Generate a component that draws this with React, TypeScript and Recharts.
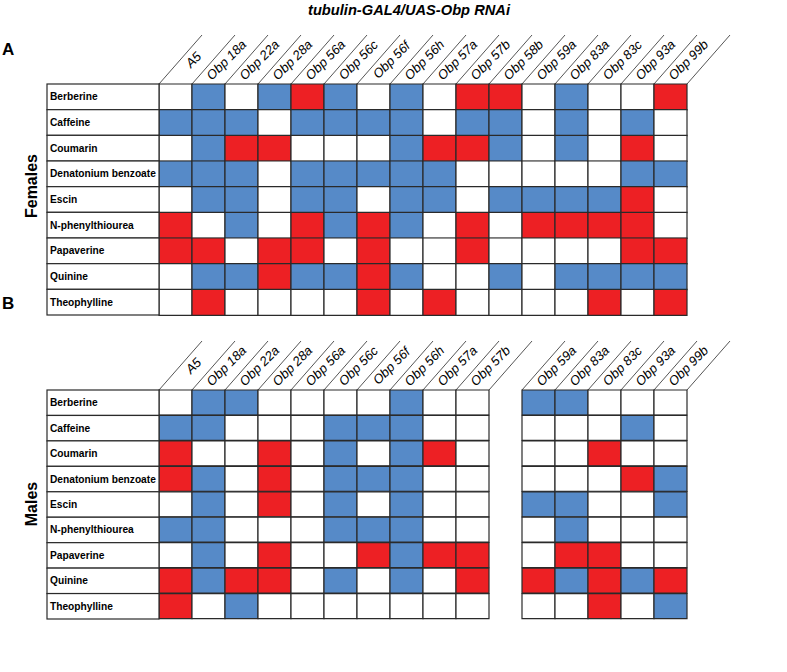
import React from "react";
import { BarChart, Bar, XAxis, YAxis, Cell } from "recharts";

// 0 = no change, 1 = blue, 2 = red, null = column left out
const compounds = [
  "Berberine",
  "Caffeine",
  "Coumarin",
  "Denatonium benzoate",
  "Escin",
  "N-phenylthiourea",
  "Papaverine",
  "Quinine",
  "Theophylline",
];

const femaleLines = [
  "A5", "Obp 18a", "Obp 22a", "Obp 28a", "Obp 56a", "Obp 56c", "Obp 56f", "Obp 56h",
  "Obp 57a", "Obp 57b", "Obp 58b", "Obp 59a", "Obp 83a", "Obp 83c", "Obp 93a", "Obp 99b",
];

const maleLines = [
  "A5", "Obp 18a", "Obp 22a", "Obp 28a", "Obp 56a", "Obp 56c", "Obp 56f", "Obp 56h",
  "Obp 57a", "Obp 57b", "", "Obp 59a", "Obp 83a", "Obp 83c", "Obp 93a", "Obp 99b",
];

const females = [
  [0, 1, 0, 1, 2, 1, 0, 1, 0, 2, 2, 0, 1, 0, 0, 2],
  [1, 1, 1, 0, 1, 1, 1, 1, 0, 1, 1, 0, 1, 0, 1, 0],
  [0, 1, 2, 2, 0, 0, 0, 1, 2, 2, 1, 0, 1, 0, 2, 0],
  [1, 1, 1, 0, 1, 1, 1, 1, 1, 0, 0, 0, 0, 0, 1, 1],
  [0, 1, 1, 0, 1, 1, 0, 1, 1, 0, 1, 1, 1, 1, 2, 0],
  [2, 0, 1, 0, 2, 1, 2, 1, 0, 2, 0, 2, 2, 2, 2, 0],
  [2, 2, 0, 2, 2, 0, 2, 0, 0, 2, 0, 0, 0, 0, 2, 2],
  [0, 1, 1, 2, 1, 1, 2, 1, 0, 0, 1, 0, 1, 1, 1, 1],
  [0, 2, 0, 0, 0, 0, 2, 0, 2, 0, 0, 0, 0, 2, 0, 2],
];

const males = [
  [0, 1, 1, 0, 0, 0, 0, 1, 0, 0, null, 1, 1, 0, 0, 0],
  [1, 1, 0, 0, 0, 1, 1, 1, 0, 0, null, 0, 0, 0, 1, 0],
  [2, 0, 0, 2, 0, 1, 0, 1, 2, 0, null, 0, 0, 2, 0, 0],
  [2, 1, 0, 2, 0, 1, 1, 1, 0, 0, null, 0, 0, 0, 2, 1],
  [0, 1, 0, 2, 0, 1, 0, 1, 0, 0, null, 1, 1, 0, 0, 1],
  [1, 1, 0, 0, 0, 1, 1, 1, 0, 0, null, 0, 1, 0, 0, 0],
  [0, 1, 0, 2, 0, 0, 2, 1, 2, 2, null, 0, 2, 2, 0, 0],
  [2, 1, 2, 2, 0, 1, 0, 1, 0, 2, null, 2, 1, 2, 1, 2],
  [2, 0, 1, 0, 0, 0, 0, 0, 0, 0, null, 0, 0, 2, 0, 1],
];

const BLUE = "#568AC8";
const RED = "#ED2024";
const EDGE = "#2a2a2a";
const FONT = "'Liberation Sans', Arial, sans-serif";

const fillFor = (v: number | null) => (v === 1 ? BLUE : v === 2 ? RED : v === 0 ? "#ffffff" : "none");

type PanelProps = {
  lines: string[];
  matrix: (number | null)[][];
  height: number;
  marginTop: number;
  marginBottom: number;
};

const HEAD_H = 50;
const LABEL_W = 112;
const LEFT = 47;
const RIGHT = 100;
const W = 787;

function Panel({ lines, matrix, height, marginTop, marginBottom }: PanelProps) {
  const n = lines.length;
  const plotTop = marginTop + HEAD_H;
  const plotH = height - plotTop - marginBottom;
  const rowH = plotH / compounds.length;
  const colW = (W - LEFT - LABEL_W - RIGHT) / n;

  const data = compounds.map((name) => {
    const row: Record<string, any> = { name };
    lines.forEach((_, c) => (row["c" + c] = 1));
    return row;
  });

  const HeaderTick = (props: any) => {
    const { x, payload } = props;
    const i = payload.value as number;
    const has = (k: number) => k >= 0 && k < n && lines[k] !== "";
    const showLine = has(i) || has(i - 1);
    const cx = x + colW / 2 + 21;
    const cy = plotTop - 21;
    return (
      <g>
        {showLine && (
          <line x1={x} y1={plotTop} x2={x + 43} y2={plotTop - 49} stroke={EDGE} strokeWidth={0.8} />
        )}
        {has(i) && (
          <text
            x={cx}
            y={cy}
            transform={`rotate(-45 ${cx} ${cy})`}
            textAnchor="middle"
            fontFamily={FONT}
            fontStyle="italic"
            fontSize={13}
            fill="#000"
          >
            {lines[i]}
          </text>
        )}
      </g>
    );
  };

  const RowTick = (props: any) => {
    const { y, payload } = props;
    return (
      <g>
        <rect x={LEFT} y={y - rowH / 2} width={LABEL_W} height={rowH} fill="#fff" stroke={EDGE} strokeWidth={1.2} />
        <text x={LEFT + 3} y={y + 3.5} fontFamily={FONT} fontWeight="bold" fontSize={10.2} fill="#000">
          {payload.value}
        </text>
      </g>
    );
  };

  return (
    <BarChart
      width={W}
      height={height}
      data={data}
      layout="vertical"
      barCategoryGap={0}
      margin={{ top: marginTop, right: RIGHT, bottom: marginBottom, left: LEFT }}
    >
      <XAxis
        type="number"
        orientation="top"
        domain={[0, n]}
        ticks={Array.from({ length: n + 1 }, (_, k) => k)}
        interval={0}
        height={HEAD_H}
        axisLine={false}
        tickLine={false}
        tick={<HeaderTick />}
      />
      <YAxis
        type="category"
        dataKey="name"
        width={LABEL_W}
        interval={0}
        axisLine={false}
        tickLine={false}
        tick={<RowTick />}
      />
      {lines.map((_, c) => (
        <Bar key={c} dataKey={"c" + c} stackId="grid" isAnimationActive={false}>
          {matrix.map((row, r) => (
            <Cell
              key={r}
              fill={fillFor(row[c])}
              stroke={row[c] === null ? "none" : EDGE}
              strokeWidth={1.2}
            />
          ))}
        </Bar>
      ))}
    </BarChart>
  );
}

export default function App() {
  return (
    <div style={{ position: "absolute", left: 0, top: 0, width: 787, height: 672, background: "#fff" }}>
      <div style={{ position: "absolute", left: 0, top: 0 }}>
        <Panel lines={femaleLines} matrix={females} height={330} marginTop={34} marginBottom={15} />
      </div>
      <div style={{ position: "absolute", left: 0, top: 336 }}>
        <Panel lines={maleLines} matrix={males} height={290} marginTop={4} marginBottom={7} />
      </div>
      <svg width={787} height={672} style={{ position: "absolute", left: 0, top: 0, pointerEvents: "none" }}>
        <text
          x={409}
          y={15}
          textAnchor="middle"
          fontFamily={FONT}
          fontWeight="bold"
          fontStyle="italic"
          fontSize={14}
          textLength={202}
          lengthAdjust="spacingAndGlyphs"
        >
          tubulin-GAL4/UAS-Obp RNAi
        </text>
        <text x={2} y={55} fontFamily={FONT} fontWeight="bold" fontSize={17}>A</text>
        <text x={2} y={309} fontFamily={FONT} fontWeight="bold" fontSize={17}>B</text>
        <text
          x={37}
          y={186}
          transform="rotate(-90 37 186)"
          textAnchor="middle"
          fontFamily={FONT}
          fontWeight="bold"
          fontSize={16}
        >
          Females
        </text>
        <text
          x={37}
          y={504}
          transform="rotate(-90 37 504)"
          textAnchor="middle"
          fontFamily={FONT}
          fontWeight="bold"
          fontSize={16}
        >
          Males
        </text>
      </svg>
    </div>
  );
}
